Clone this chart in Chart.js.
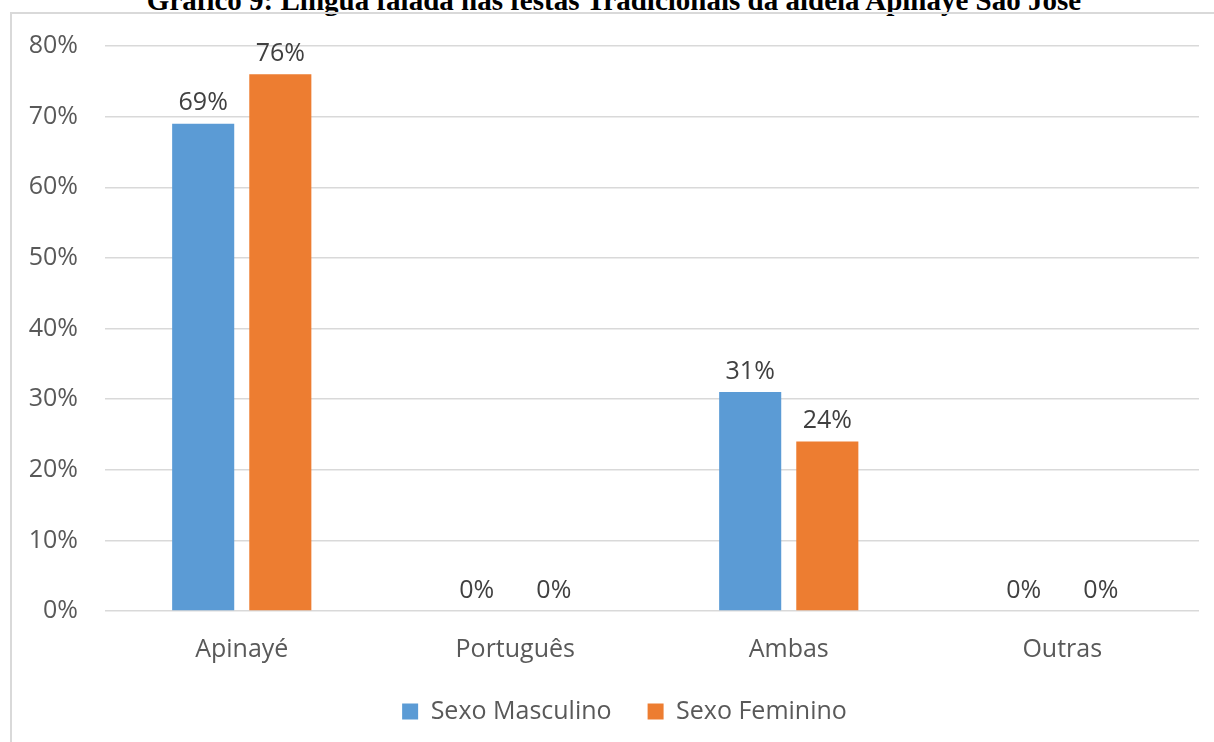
<!DOCTYPE html>
<html>
<head>
<meta charset="utf-8">
<script src="https://cdn.jsdelivr.net/npm/chart.js@4/dist/chart.umd.min.js"></script>
<style>
  html, body { margin: 0; padding: 0; background: #fff; }
  body { width: 1214px; height: 742px; position: relative; overflow: hidden; }
  #title {
    position: absolute; left: 0; width: 1228px; top: -16px; white-space: nowrap;
    text-align: center; font: bold 29px "Liberation Serif", "Times New Roman", serif; color: #000;
  }
  #frame {
    position: absolute; left: 10px; top: 12px; width: 1220px; height: 760px;
    border: 2px solid #d9d9d9; box-sizing: border-box;
  }
  #wrap { position: absolute; left: 0; top: 0; width: 1214px; height: 742px; }
</style>
</head>
<body>
<div id="title">Gráfico 9: Língua falada nas festas Tradicionais da aldeia Apinayé São José</div>
<div id="frame"></div>
<div id="wrap"><canvas id="chart"></canvas></div>
<script>
    const categories = ["Apinayé", "Português", "Ambas", "Outras"];
    const seriesNames = ["Sexo Masculino", "Sexo Feminino"];
    const masculino = [69, 0, 31, 0];
    const feminino = [76, 0, 24, 0];
    const yTicks = [0, 10, 20, 30, 40, 50, 60, 70, 80];

    const textColor = "#595959";
    const fontFamily = "'Open Sans', 'Noto Sans', sans-serif";

    // value labels drawn above each bar
    const barLabels = {
        id: "barLabels",
        afterDatasetsDraw(chart) {
            const ctx = chart.ctx;
            ctx.save();
            ctx.font = "25px " + fontFamily;
            ctx.fillStyle = "#404040";
            ctx.textAlign = "center";
            ctx.textBaseline = "bottom";
            chart.data.datasets.forEach((ds, i) => {
                chart.getDatasetMeta(i).data.forEach((bar, j) => {
                    ctx.fillText(ds.data[j] + "%", bar.x, bar.y - 8);
                });
            });
            ctx.restore();
        }
    };

    // nudge the legend a bit to the right, centred under the plot
    const legendShift = {
        id: "legendShift",
        afterLayout(chart) {
            if (chart.legend) {
                chart.legend.left += 25;
                chart.legend.right += 25;
            }
        }
    };

    new Chart("chart", {
        type: "bar",
        data: {
            labels: categories,
            datasets: [{
                label: seriesNames[0],
                data: masculino,
                backgroundColor: "#5b9bd5",
                categoryPercentage: 0.564,
                barPercentage: 0.805
            }, {
                label: seriesNames[1],
                data: feminino,
                backgroundColor: "#ed7d31",
                categoryPercentage: 0.564,
                barPercentage: 0.805
            }]
        },
        options: {
            responsive: true,
            maintainAspectRatio: false,
            animation: false,
            layout: { padding: { left: 0, right: 15, top: 46, bottom: 8 } },
            plugins: {
                tooltip: { enabled: false },
                legend: {
                    position: "bottom",
                    labels: {
                        boxWidth: 16, boxHeight: 16, padding: 36,
                        color: textColor,
                        font: { family: fontFamily, size: 25 }
                    }
                }
            },
            scales: {
                x: {
                    afterFit: (axis) => { axis.height -= 18; },
                    grid: { display: false },
                    border: { display: false },
                    ticks: { color: textColor, padding: 16, font: { family: fontFamily, size: 25 } }
                },
                y: {
                    min: 0, max: 80,
                    afterBuildTicks: (axis) => { axis.ticks = yTicks.map(v => ({ value: v })); },
                    afterFit: (axis) => { axis.width = 105; },
                    grid: { color: "#d9d9d9", lineWidth: 1.5, drawTicks: false },
                    border: { display: false },
                    ticks: {
                        color: textColor, padding: 27,
                        font: { family: fontFamily, size: 25 },
                        callback: (v) => v + "%"
                    }
                }
            }
        },
        plugins: [barLabels, legendShift]
    });
</script>
</body>
</html>
